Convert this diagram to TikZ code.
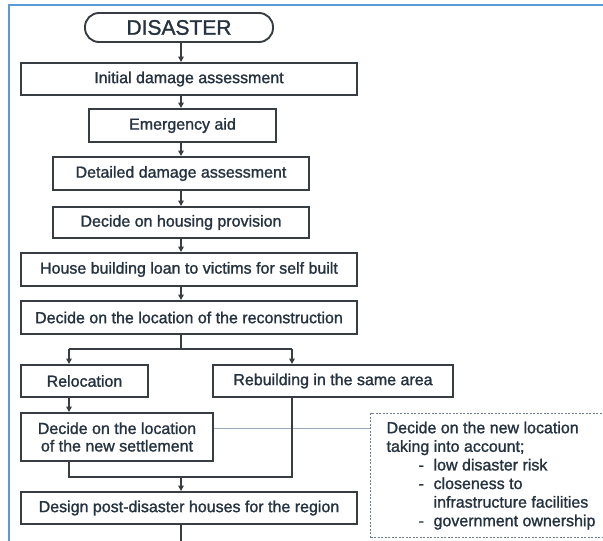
\documentclass[tikz,border=0pt]{standalone}
\usepackage{fontspec}
\setmainfont[FakeBold=1.3]{Liberation Sans}
\usetikzlibrary{arrows.meta}
\definecolor{txtc}{HTML}{253240}
\definecolor{boxc}{HTML}{383D44}
\definecolor{framec}{HTML}{5B9BD5}
\definecolor{dashc}{HTML}{6E7E8C}
\definecolor{thinc}{HTML}{9AAABA}
\tikzset{
  stepbox/.style={draw=boxc, line width=1.9pt, fill=white, text=txtc, inner sep=0pt,
    font=\fontsize{16}{17.5}\selectfont, align=center},
  conn/.style={draw=boxc, line width=1.5pt},
  arr/.style={conn, -{Triangle[length=5.5pt,width=5.5pt]}},
  notebox/.style={draw=dashc, dashed, dash pattern=on 2pt off 1.5pt, line width=1.2pt, text=txtc,
    font=\fontsize{16}{18.6}\selectfont, align=left, inner xsep=16pt, anchor=north west}
}
\begin{document}
\begin{tikzpicture}[x=1pt,y=-1pt]
\useasboundingbox[fill=white] (0,0) rectangle (603,541);
% frame
\draw[framec, line width=1.4pt] (9,541) -- (9,5) -- (603,5);
\coordinate (tr) at (181,0);
\coordinate (bl) at (69,349);
\coordinate (br) at (292,349);
\coordinate (jl) at (69,477);
\coordinate (jr) at (292,477);
\coordinate (bot) at (181,541);

\node[stepbox, rounded corners=14pt, minimum width=188pt, minimum height=29pt,
  font=\fontsize{21}{24}\selectfont] (dis) at (179,27.5) {DISASTER};
\node[stepbox, minimum width=336pt, minimum height=32pt] (init) at (189,79) {Initial damage assessment};
\node[stepbox, minimum width=187pt, minimum height=33pt] (emerg) at (182.5,125.5) {Emergency aid};
\node[stepbox, minimum width=256pt, minimum height=33pt] (det) at (181,173.5) {Detailed damage assessment};
\node[stepbox, minimum width=256pt, minimum height=31pt] (hous) at (181,222.5) {Decide on housing provision};
\node[stepbox, minimum width=336pt, minimum height=33pt] (loan) at (189,269.5) {House building loan to victims for self built};
\node[stepbox, minimum width=336pt, minimum height=33pt] (loc) at (189,317.5) {Decide on the location of the reconstruction};
\node[stepbox, minimum width=127pt, minimum height=32pt] (reloc) at (84.5,381) {Relocation};
\node[stepbox, minimum width=240pt, minimum height=32pt] (rebuild) at (333,381) {Rebuilding in the same area};
\node[stepbox, minimum width=192pt, minimum height=48pt] (newset) at (117,437) {Decide on the location\\of the new settlement};
\node[stepbox, minimum width=336pt, minimum height=32pt] (design) at (189,508) {Design post-disaster houses for the region};

\node[notebox, minimum width=232pt, minimum height=124pt] (note) at (370,413)
  {Decide on the new location\\
   taking into account;\\
   \hspace*{32pt}\makebox[15pt][l]{-}low disaster risk\\
   \hspace*{32pt}\makebox[15pt][l]{-}closeness to\\
   \hspace*{47pt}infrastructure facilities\\
   \hspace*{32pt}\makebox[15pt][l]{-}government ownership};

% thin link to note
\draw[thinc, line width=0.8pt] (newset.east |- 0,428) -- (note.west |- 0,428);

% main chain
\draw[arr] (tr |- dis.south) -- (tr |- init.north);
\draw[arr] (tr |- init.south) -- (tr |- emerg.north);
\draw[arr] (tr |- emerg.south) -- (tr |- det.north);
\draw[arr] (tr |- det.south) -- (tr |- hous.north);
\draw[arr] (tr |- hous.south) -- (tr |- loan.north);
\draw[arr] (tr |- loan.south) -- (tr |- loc.north);
% branch
\draw[conn] (tr |- loc.south) -- (tr |- bl);
\draw[conn] (bl) -- (br);
\draw[arr] (bl) -- (bl |- reloc.north);
\draw[arr] (br) -- (br |- rebuild.north);
\draw[arr] (bl |- reloc.south) -- (bl |- newset.north);
% merge
\draw[conn] (jl |- newset.south) -- (jl) -- (jr) -- (jr |- rebuild.south);
\draw[arr] (tr |- jl) -- (tr |- design.north);
\draw[conn] (tr |- design.south) -- (bot);
\end{tikzpicture}
\end{document}
